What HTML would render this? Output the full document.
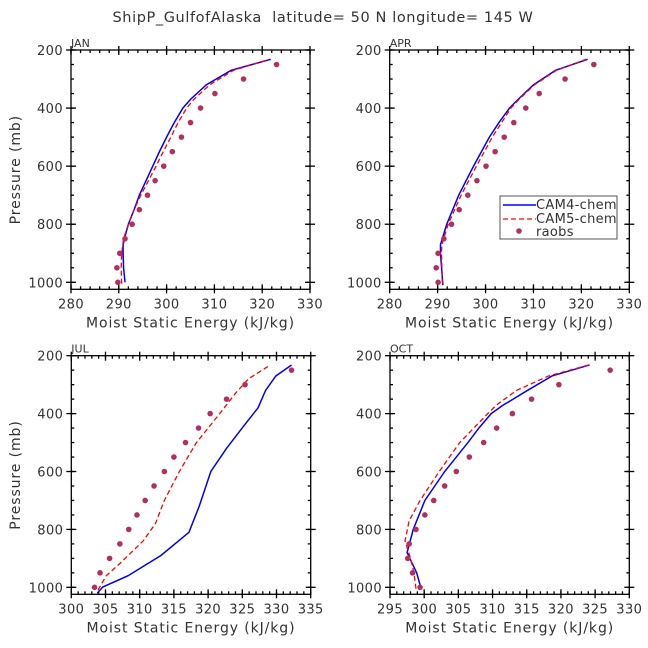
<!DOCTYPE html>
<html><head><meta charset="utf-8"><style>
body{margin:0;background:#fff}
svg{display:block;font-family:"DejaVu Sans","Liberation Sans",sans-serif}
text{white-space:pre}
</style></head><body>
<svg id="chart" width="648" height="648" viewBox="0 0 648 648">
<text x="323" y="22" text-anchor="middle" font-size="14.5" letter-spacing="0.6" fill="#333" xml:space="preserve">ShipP_GulfofAlaska  latitude= 50 N longitude= 145 W</text>
</svg>
<script>
const NS="http://www.w3.org/2000/svg";
const svg=document.getElementById('chart');
const obsP=[1000,950,900,850,800,750,700,650,600,550,500,450,400,350,300,250];
// JAN
const janObs=[289.8,289.6,290.2,291.3,292.8,294.3,296.0,297.6,299.4,301.2,303.1,305.0,307.1,310.1,316.1,323.0];
const janC4P=[1000,950,900,870,830,800,750,700,650,600,550,500,450,400,370,320,270,232];
const janC4=[291.3,291.0,290.9,290.9,291.5,292.0,293.2,294.3,295.7,297.1,298.5,300.0,301.6,303.4,305.0,308.3,313.5,321.8];
const janC5P=[1005,950,900,850,800,750,700,650,600,550,500,450,400,370,320,270,232];
const janC5=[290.6,290.5,290.6,291.0,292.0,293.2,294.6,296.2,297.8,299.3,300.9,302.4,304.2,305.7,309.0,314.0,321.5];
// APR
const aprObs=[290.1,289.7,290.1,291.3,292.9,294.5,296.3,298.2,300.1,302.0,303.9,305.9,308.4,311.2,316.6,322.6];
const aprC4P=[1010,900,870,800,700,600,500,450,400,370,320,270,232];
const aprC4=[291.1,290.6,290.6,291.9,294.4,297.5,300.8,302.8,305.0,306.8,310.0,314.6,321.3];
const aprC5P=[1005,900,870,800,700,600,500,400,370,320,270,232];
const aprC5=[291.0,290.8,290.9,292.2,294.9,298.1,301.4,305.3,307.0,310.2,314.8,321.0];
// JUL
const julObs=[303.4,304.2,305.6,307.1,308.4,309.6,310.8,312.1,313.6,315.0,316.7,318.6,320.3,322.7,325.4,332.2];
const julC4P=[1020,999,960,890,810,720,600,520,440,380,320,270,232];
const julC4=[303.8,304.6,308.3,313.1,317.2,318.7,320.4,322.7,325.3,327.3,328.4,329.9,332.2];
const julC5P=[1010,960,920,840,780,700,600,500,400,330,280,232];
const julC5=[303.9,305.1,307.0,310.5,312.3,313.6,315.8,318.3,321.7,324.0,325.9,329.1];
// OCT
const octObs=[299.4,298.3,297.6,297.8,298.8,300.1,301.4,303.0,304.7,306.6,308.7,310.6,312.9,315.7,319.7,327.2];
const octC4P=[1000,950,880,800,700,600,500,450,400,370,320,270,232];
const octC4=[299.5,298.9,297.5,298.4,300.1,303.0,306.4,308.0,309.8,311.6,315.1,318.7,324.2];
const octC5P=[1005,950,900,840,770,700,600,500,400,370,320,270,232];
const octC5=[298.8,298.5,298.0,297.2,297.8,299.4,302.2,305.2,309.3,310.6,313.5,318.2,324.1];
const topTicks=[280,290,300,310,320,330];
const julTicks=[300,305,310,315,320,325,330,335];
const octTicks=[295,300,305,310,315,320,325,330];
const yTicks=[200,400,600,800,1000];

function el(t,a,parent){const e=document.createElementNS(NS,t);for(const k in a)e.setAttribute(k,a[k]);(parent||svg).appendChild(e);return e;}

function panel(name,L,R,T,B,x0,x1,minorStep,xt,label,showY,c4P,c4,c5P,c5,obs){
  const g=el('g',{});
  
  
  const sx=v=>L+(v-x0)/(x1-x0)*(R-L);
  const y200=T, y1000=T+232.3*(B-T)/239.3;
  const sy=p=>y200+(p-200)*(y1000-y200)/800;
  const ax=el('g',{stroke:'#000','stroke-width':1.3,fill:'none'},g);
  
  
  el('rect',{x:L,y:T,width:R-L,height:B-T},ax);
  for(let v=x0;v<=x1+1e-6;v+=minorStep){const x=sx(v);el('line',{x1:x,y1:B,x2:x,y2:B-3},ax);el('line',{x1:x,y1:T,x2:x,y2:T+3},ax);}
  xt.forEach(v=>{const x=sx(v);el('line',{x1:x,y1:B+4,x2:x,y2:B-5},ax);el('line',{x1:x,y1:T-4,x2:x,y2:T+5},ax);
    const t=el('text',{x:x,y:B+19,'text-anchor':'middle','font-size':13,'letter-spacing':0.4,fill:'#333',stroke:'none'},g);t.textContent=v;
    
    });
  for(let p=200;p<=1000;p+=50){const y=sy(p);el('line',{x1:L,y1:y,x2:L+3,y2:y},ax);el('line',{x1:R,y1:y,x2:R-3,y2:y},ax);}
  yTicks.forEach(p=>{const y=sy(p);el('line',{x1:L-5,y1:y,x2:L+5,y2:y},ax);el('line',{x1:R+5,y1:y,x2:R-5,y2:y},ax);
    const t=el('text',{x:L-8,y:y+5,'text-anchor':'end','font-size':13,'letter-spacing':0.4,fill:'#333'},g);t.textContent=p;
    
    });
  const lb=el('text',{x:L,y:T-3,'font-size':11,fill:'#333'},g);lb.textContent=label;
  
  
  const xtl=el('text',{x:(L+R)/2,y:B+38,'text-anchor':'middle','font-size':14,'letter-spacing':0.9,fill:'#333'},g);xtl.textContent='Moist Static Energy (kJ/kg)';
  
  
  if(showY){const yt=el('text',{x:0,y:0,'text-anchor':'middle','font-size':14,'letter-spacing':0.9,fill:'#333',transform:`translate(20,${(T+B)/2}) rotate(-90)`},g);yt.textContent='Pressure (mb)';
    
    }
  const l4=el('polyline',{points:c4.map((v,i)=>sx(v)+','+sy(c4P[i])).join(' '),fill:'none',stroke:'#0000ff','stroke-width':1.5},g);
  
  
  const l5=el('polyline',{points:c5.map((v,i)=>sx(v)+','+sy(c5P[i])).join(' '),fill:'none',stroke:'#ff0000','stroke-width':1.3,'stroke-dasharray':'5,3'},g);
  
  
  obs.forEach((v,i)=>{const c=el('circle',{cx:sx(v),cy:sy(obsP[i]),r:2.8,fill:'#b03060'},g);
    
    });
}
panel('jan',71,310,50,289.3,280,330,2,topTicks,'JAN',true,janC4P,janC4,janC5P,janC5,janObs);
panel('apr',389.7,629.3,50,289.3,280,330,2,topTicks,'APR',false,aprC4P,aprC4,aprC5P,aprC5,aprObs);
panel('jul',71.3,310.7,355.7,594.3,300,335,1,julTicks,'JUL',true,julC4P,julC4,julC5P,julC5,julObs);
panel('oct',390,629.3,355.7,594.3,295,330,1,octTicks,'OCT',false,octC4P,octC4,octC5P,octC5,octObs);
// legend
const lg=el('g',{});


el('rect',{x:500,y:196,width:117,height:43,fill:'#fff',stroke:'#555','stroke-width':1},lg);
const e1=el('line',{x1:503,y1:205,x2:536,y2:205,stroke:'#0000ff','stroke-width':1.5},lg);


const e2=el('line',{x1:503,y1:219,x2:536,y2:219,stroke:'#ff0000','stroke-width':1.3,'stroke-dasharray':'5,3'},lg);


const e3=el('circle',{cx:519,cy:231,r:2.8,fill:'#b03060'},lg);


[['CAM4-chem',209],['CAM5-chem',223],['raobs',236]].forEach(([s,y])=>{const t=el('text',{x:536,y:y,'font-size':13,'letter-spacing':0.3,fill:'#333'},lg);t.textContent=s;
  
  });
</script>
</body></html>
